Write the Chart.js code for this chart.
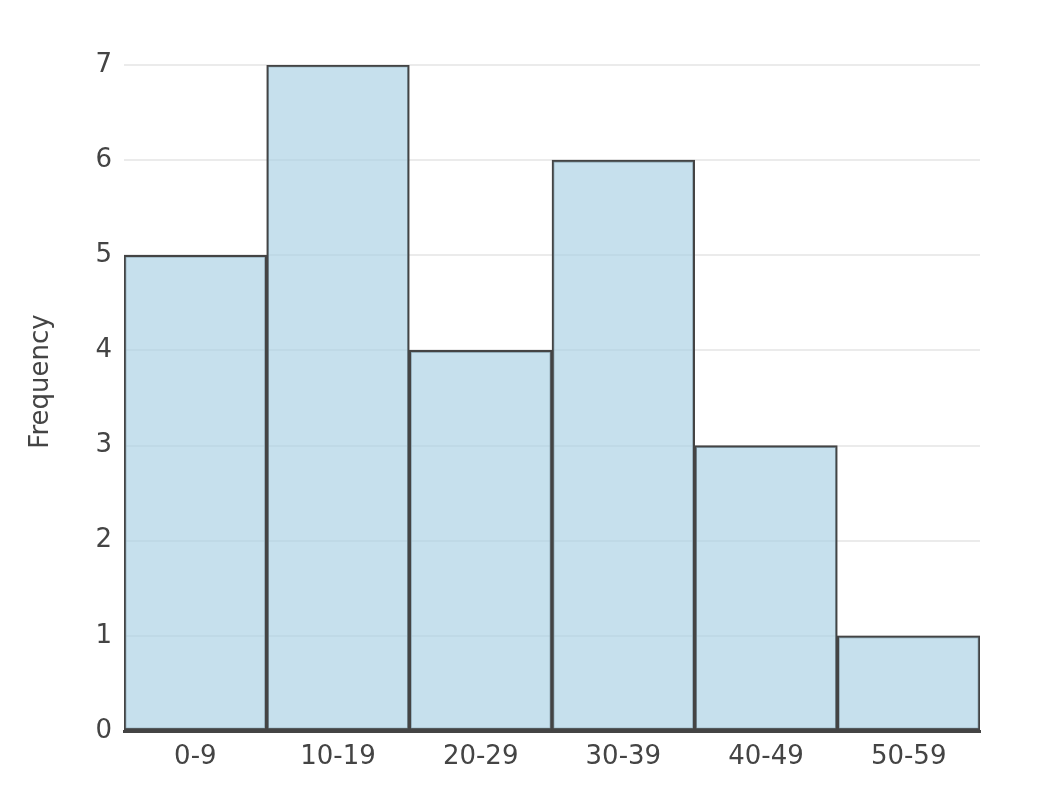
<!DOCTYPE html>
<html>
<head>
<meta charset="utf-8">
<script src="https://cdn.jsdelivr.net/npm/chart.js@4"></script>
<style>
  html, body { margin: 0; padding: 0; background: #fff; }
  #wrap { width: 1050px; height: 798px; }
</style>
</head>
<body>
<div id="wrap"><canvas id="histChart" width="1050" height="798"></canvas></div>
<script>
const bins = ['0-9', '10-19', '20-29', '30-39', '40-49', '50-59'];
const counts = [5, 7, 4, 6, 3, 1];
const yTicks = [0, 1, 2, 3, 4, 5, 6, 7];

const ctx = document.getElementById('histChart').getContext('2d');
new Chart(ctx, {
  type: 'bar',
  data: {
    labels: bins,
    datasets: [{
      label: 'Frequency',
      data: counts,
      backgroundColor: 'rgba(168, 207, 227, 0.65)',
      borderColor: '#444444',
      borderWidth: 2,
      borderSkipped: false,
      barPercentage: 1,
      categoryPercentage: 1
    }]
  },
  options: {
    responsive: false,
    animation: false,
    devicePixelRatio: 1,
    layout: { padding: { top: 65, right: 70, left: 0, bottom: 0 } },
    plugins: {
      legend: { display: false },
      tooltip: { enabled: false }
    },
    scales: {
      x: {
        grid: { display: false },
        border: { display: true, color: '#444444', width: 3 },
        ticks: {
          color: '#444444',
          font: { family: 'DejaVu Sans', size: 26 },
          padding: 3
        },
        afterFit: s => { s.height = 67; }
      },
      y: {
        min: 0,
        max: 7,
        afterBuildTicks: s => { s.ticks = yTicks.map(v => ({ value: v })); },
        grid: { color: '#ebebeb', lineWidth: 2, drawTicks: false },
        border: { display: false },
        ticks: {
          color: '#444444',
          font: { family: 'DejaVu Sans', size: 26 },
          padding: 12
        },
        title: {
          display: true,
          text: '    Frequency',
          color: '#444444',
          font: { family: 'DejaVu Sans', size: 26 },
          padding: { top: 26, bottom: 0 }
        },
        afterFit: s => { s.width = 124; }
      }
    }
  }
});
</script>
</body>
</html>
